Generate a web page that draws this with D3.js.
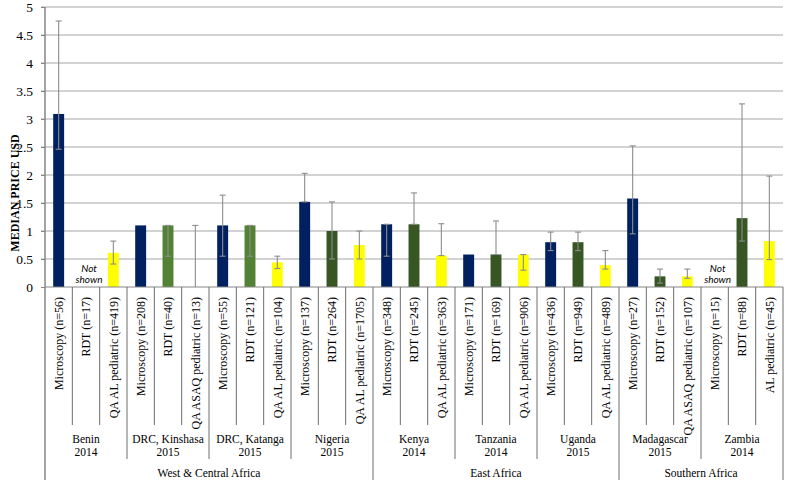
<!DOCTYPE html>
<html>
<head>
<meta charset="utf-8">
<script src="https://cdn.jsdelivr.net/npm/d3@7"></script>
<style>
  body { margin: 0; background: #fff; }
  svg { display: block; }
</style>
</head>
<body>
<div id="chart"></div>
<script>
// chart data
var labels = [
  "Microscopy (n=56)", "RDT (n=17)", "QA AL pediatric (n=419)",
  "Microscopy (n=208)", "RDT (n=40)", "QA ASAQ pediatric (n=13)",
  "Microscopy (n=55)", "RDT (n=121)", "QA AL pediatric (n=104)",
  "Microscopy (n=137)", "RDT (n=264)", "QA AL pediatric (n=1705)",
  "Microscopy (n=348)", "RDT (n=245)", "QA AL pediatric (n=363)",
  "Microscopy (n=171)", "RDT (n=169)", "QA AL pediatric (n=906)",
  "Microscopy (n=436)", "RDT (n=949)", "QA AL pediatric (n=489)",
  "Microscopy (n=27)", "RDT (n=152)", "QA ASAQ pediatric (n=107)",
  "Microscopy (n=15)", "RDT (n=88)", "AL pediatric (n=45)"
];
var types = [
  "mic", "rdt", "qa",
  "mic", "rdtLight", "qa",
  "mic", "rdtLight", "qa",
  "mic", "rdt", "qa",
  "mic", "rdt", "qa",
  "mic", "rdt", "qa",
  "mic", "rdt", "qa",
  "mic", "rdt", "qa",
  "mic", "rdt", "qa"
];
var values  = [3.09, null, 0.61, 1.1, 1.1, 0, 1.1, 1.1, 0.44, 1.52, 1.0, 0.75, 1.12, 1.12, 0.56, 0.58, 0.58, 0.58, 0.8, 0.8, 0.39, 1.58, 0.19, 0.19, null, 1.23, 0.82];
var errLow  = [2.46, null, 0.41, null, 0.55, 0, 0.55, 0.55, 0.33, 1.52, 0.5, 0.5, 0.55, 1.12, 0.56, null, 0.58, 0.3, 0.65, 0.65, 0.32, 0.95, 0.07, 0.155, null, 0.82, 0.49];
var errHigh = [4.75, null, 0.82, null, 1.1, 1.1, 1.64, 1.1, 0.55, 2.03, 1.52, 1.0, 1.12, 1.68, 1.13, null, 1.18, 0.58, 0.98, 0.98, 0.65, 2.52, 0.32, 0.32, null, 3.27, 1.98];

var countries = ["Benin", "DRC, Kinshasa", "DRC, Katanga", "Nigeria", "Kenya", "Tanzania", "Uganda", "Madagascar", "Zambia"];
var years = ["2014", "2015", "2015", "2015", "2014", "2014", "2015", "2015", "2014"];
var countrySize = [3, 3, 3, 3, 3, 3, 3, 3, 3];
var regions = ["West & Central Africa", "East Africa", "Southern Africa"];
var regionSize = [12, 9, 6];
var yTicks = [0, 0.5, 1, 1.5, 2, 2.5, 3, 3.5, 4, 4.5, 5];

var colors = { mic: "#002060", rdt: "#375623", rdtLight: "#548235", qa: "#ffff00" };

var svgWidth = 785;
var svgHeight = 480;
var margin = { top: 7, right: 2, bottom: 193, left: 45 };
var width = svgWidth - margin.left - margin.right;
var height = svgHeight - margin.top - margin.bottom;

var SERIF = '"Liberation Serif", serif';

var svg = d3.select("#chart")
  .append("svg")
  .attr("width", svgWidth)
  .attr("height", svgHeight);

var chartGroup = svg.append("g")
  .attr("transform", `translate(${margin.left}, ${margin.top})`);

var x = d3.scaleBand()
  .domain(d3.range(labels.length))
  .range([0, width])
  .padding(0);

var y = d3.scaleLinear()
  .domain([0, 5])
  .range([height, 0]);

var barW = x.bandwidth() * 0.4;
var cx = i => x(i) + x.bandwidth() / 2;

// gridlines
chartGroup.append("g")
  .selectAll("line")
  .data(yTicks.filter(d => d > 0))
  .enter()
  .append("line")
  .attr("x1", -4)
  .attr("x2", width)
  .attr("y1", d => y(d))
  .attr("y2", d => y(d))
  .attr("stroke", "#a6a6a6")
  .attr("stroke-width", 1.2);

// y axis
var leftAxis = d3.axisLeft(y)
  .tickValues(yTicks)
  .tickSize(4)
  .tickPadding(8)
  .tickFormat(d => String(d));

var yAxis = chartGroup.append("g").call(leftAxis)
  .attr("font-family", SERIF)
  .attr("font-size", 13.5);
yAxis.select(".domain").remove();
yAxis.selectAll("line").attr("stroke", "#868686");
yAxis.selectAll("text")
  .attr("fill", "#000")
  .style("font-family", SERIF);

svg.append("text")
  .attr("transform", "translate(15, 193) rotate(-90)")
  .attr("text-anchor", "middle")
  .attr("dy", "0.35em")
  .style("font-family", SERIF)
  .style("font-size", "12px")
  .style("font-weight", "bold")
  .text("MEDIAN PRICE USD");

// bars
var idx = d3.range(labels.length);
chartGroup.append("g")
  .selectAll("rect")
  .data(idx.filter(i => values[i] !== null && values[i] > 0))
  .enter()
  .append("rect")
  .attr("x", i => cx(i) - barW / 2)
  .attr("width", barW)
  .attr("y", i => y(values[i]))
  .attr("height", i => y(0) - y(values[i]))
  .attr("fill", i => colors[types[i]]);

// error bars
var errGroup = chartGroup.append("g")
  .attr("stroke", "#8c8c8c")
  .attr("stroke-width", 1.1);

var errIdx = idx.filter(i => errHigh[i] !== null);
errGroup.selectAll(".stem")
  .data(errIdx)
  .enter()
  .append("line")
  .attr("x1", cx).attr("x2", cx)
  .attr("y1", i => y(errLow[i]))
  .attr("y2", i => y(errHigh[i]));

errGroup.selectAll(".capHi")
  .data(errIdx)
  .enter()
  .append("line")
  .attr("x1", i => cx(i) - 3).attr("x2", i => cx(i) + 3)
  .attr("y1", i => y(errHigh[i]))
  .attr("y2", i => y(errHigh[i]));

errGroup.selectAll(".capLo")
  .data(errIdx.filter(i => errLow[i] > 0))
  .enter()
  .append("line")
  .attr("x1", i => cx(i) - 3).attr("x2", i => cx(i) + 3)
  .attr("y1", i => y(errLow[i]))
  .attr("y2", i => y(errLow[i]));

// "Not shown" notes
idx.filter(i => values[i] === null).forEach(function(i) {
  var t = chartGroup.append("text")
    .attr("text-anchor", "middle")
    .style("font-family", '"Lato", sans-serif')
    .style("font-style", "italic")
    .style("font-size", "10px");
  t.append("tspan").attr("x", cx(i) + 3).attr("y", y(0) - 15).text("Not");
  t.append("tspan").attr("x", cx(i) + 3).attr("y", y(0) - 4).text("shown");
});

// bottom table
var lineColor = "#6e6e6e";
var catBottom = 425 - margin.top;
var countryBottom = 459 - margin.top;
var regionBottom = svgHeight - margin.top;

// baseline
chartGroup.append("line")
  .attr("x1", 0).attr("x2", width)
  .attr("y1", y(0)).attr("y2", y(0))
  .attr("stroke", "#868686")
  .attr("stroke-width", 1.2);

// left axis line, full height
chartGroup.append("line")
  .attr("x1", 0).attr("x2", 0)
  .attr("y1", y(5)).attr("y2", regionBottom)
  .attr("stroke", "#868686")
  .attr("stroke-width", 1.5);

// right edge
chartGroup.append("line")
  .attr("x1", width).attr("x2", width)
  .attr("y1", y(0)).attr("y2", regionBottom)
  .attr("stroke", lineColor)
  .attr("stroke-width", 1);

// separators between categories
var countryEnds = d3.cumsum(countrySize);
var regionEnds = d3.cumsum(regionSize);
d3.range(1, labels.length).forEach(function(k) {
  var bottom = catBottom;
  if (countryEnds.includes(k)) bottom = countryBottom;
  if (regionEnds.includes(k)) bottom = regionBottom;
  chartGroup.append("line")
    .attr("x1", x(k)).attr("x2", x(k))
    .attr("y1", y(0)).attr("y2", bottom)
    .attr("stroke", lineColor)
    .attr("stroke-width", 1);
});

// category labels
chartGroup.append("g")
  .selectAll("text")
  .data(idx)
  .enter()
  .append("text")
  .attr("transform", i => `translate(${cx(i)}, ${y(0) + 10}) rotate(-90)`)
  .attr("text-anchor", "end")
  .attr("dy", "0.35em")
  .style("font-family", SERIF)
  .style("font-size", "12px")
  .text(i => labels[i]);

// country labels
var start = 0;
countries.forEach(function(c, j) {
  var mid = (x(start) + x(start + countrySize[j] - 1) + x.bandwidth()) / 2;
  var t = chartGroup.append("text")
    .attr("text-anchor", "middle")
    .style("font-family", SERIF)
    .style("font-size", "11.5px");
  t.append("tspan").attr("x", mid).attr("y", 443 - margin.top).text(c);
  t.append("tspan").attr("x", mid).attr("y", 456 - margin.top).text(years[j]);
  start += countrySize[j];
});

// region labels
start = 0;
regions.forEach(function(r, j) {
  var mid = (x(start) + x(start + regionSize[j] - 1) + x.bandwidth()) / 2;
  chartGroup.append("text")
    .attr("x", mid)
    .attr("y", 477 - margin.top)
    .attr("text-anchor", "middle")
    .style("font-family", SERIF)
    .style("font-size", "11.5px")
    .text(r);
  start += regionSize[j];
});
</script>
</body>
</html>
